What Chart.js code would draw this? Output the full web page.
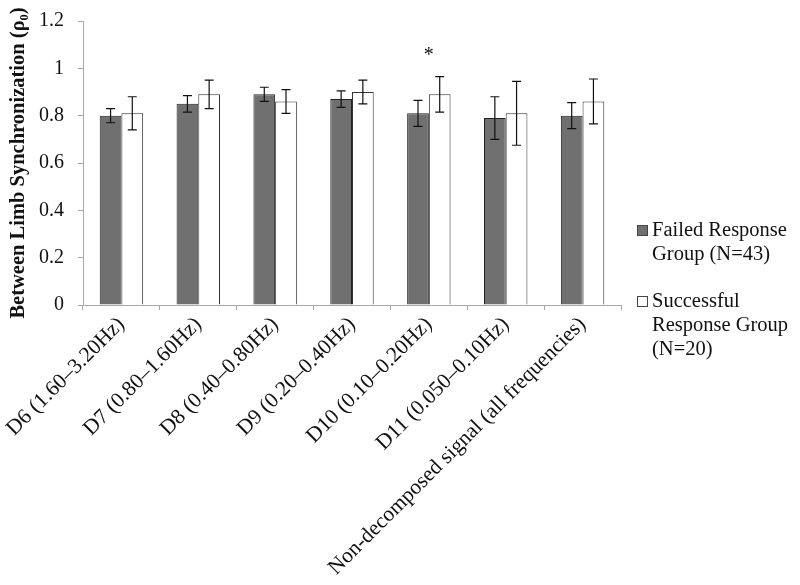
<!DOCTYPE html>
<html>
<head>
<meta charset="utf-8">
<script src="https://cdn.jsdelivr.net/npm/chart.js@4"></script>
<style>
  html, body { margin: 0; padding: 0; background: #fff; }
  #wrap { width: 800px; height: 585px; }
</style>
</head>
<body>
<div id="wrap"><canvas id="c" width="800" height="585"></canvas></div>
<script>
const categories = [
  'D6 (1.60\u20133.20Hz)',
  'D7 (0.80\u20131.60Hz)',
  'D8 (0.40\u20130.80Hz)',
  'D9 (0.20\u20130.40Hz)',
  'D10 (0.10\u20130.20Hz)',
  'D11 (0.050\u20130.10Hz)',
  'Non-decomposed signal (all frequencies)'
];
const failedValues = [0.80, 0.85, 0.89, 0.87, 0.81, 0.79, 0.80];
const failedErrors = [0.03, 0.035, 0.03, 0.035, 0.055, 0.09, 0.055];
const successValues = [0.81, 0.89, 0.86, 0.90, 0.89, 0.81, 0.86];
const successErrors = [0.07, 0.06, 0.05, 0.05, 0.075, 0.135, 0.095];
const significanceMarks = ['', '', '', '', '*', '', ''];
const significanceLevel = 1.075;
const yTickLabels = ['0', '0.2', '0.4', '0.6', '0.8', '1', '1.2'];
const seriesNames = ['Failed Response Group (N=43)', 'Successful Response Group (N=20)'];
const legendLines = [['Failed Response', 'Group (N=43)'], ['Successful', 'Response Group', '(N=20)']];
const yTitle = 'Between Limb Synchronization (\u03c1\u2080)';

const FONT = "'Liberation Serif', 'Times New Roman', serif";
const errors = [failedErrors, successErrors];

const errorBarPlugin = {
  id: 'errorBars',
  afterDatasetsDraw(chart) {
    const ctx = chart.ctx;
    const y = chart.scales.y;
    ctx.save();
    ctx.strokeStyle = '#111';
    ctx.lineWidth = 1.2;
    chart.data.datasets.forEach((ds, di) => {
      const meta = chart.getDatasetMeta(di);
      meta.data.forEach((bar, i) => {
        const v = ds.data[i], e = errors[di][i];
        const yt = y.getPixelForValue(v + e);
        const yb = y.getPixelForValue(v - e);
        const x = bar.x;
        const cap = 4.5;
        ctx.beginPath();
        ctx.moveTo(x, yt); ctx.lineTo(x, yb);
        ctx.moveTo(x - cap, yt); ctx.lineTo(x + cap, yt);
        ctx.moveTo(x - cap, yb); ctx.lineTo(x + cap, yb);
        ctx.stroke();
      });
    });
    const xs = chart.scales.x;
    ctx.fillStyle = '#111';
    ctx.font = '20px ' + FONT;
    ctx.textAlign = 'center';
    ctx.textBaseline = 'middle';
    significanceMarks.forEach((m, i) => {
      if (!m) return;
      ctx.fillText(m, xs.getPixelForValue(i), y.getPixelForValue(significanceLevel) + 5);
    });
    ctx.restore();
  }
};

const legendPlugin = {
  id: 'sideLegend',
  afterDraw(chart) {
    const ctx = chart.ctx;
    ctx.save();
    ctx.font = '20.5px ' + FONT;
    ctx.textAlign = 'left';
    ctx.textBaseline = 'middle';
    const starts = [231, 302];
    const lineH = 24;
    chart.data.datasets.forEach((ds, di) => {
      const y0 = starts[di];
      ctx.fillStyle = ds.backgroundColor;
      ctx.fillRect(637.5, y0 - 5.5, 10, 10);
      ctx.strokeStyle = '#444';
      ctx.lineWidth = 1;
      ctx.strokeRect(637.5, y0 - 5.5, 10, 10);
      ctx.fillStyle = '#111';
      legendLines[di].forEach((line, li) => {
        ctx.fillText(line, 652, y0 + li * lineH);
      });
    });
    ctx.restore();
  }
};

new Chart(document.getElementById('c'), {
  type: 'bar',
  data: {
    labels: categories,
    datasets: [
      { label: seriesNames[0], data: failedValues, backgroundColor: '#707070', borderColor: '#222', borderWidth: 1 },
      { label: seriesNames[1], data: successValues, backgroundColor: '#ffffff', borderColor: '#333', borderWidth: 1 }
    ]
  },
  options: {
    responsive: false,
    animation: false,
    devicePixelRatio: 1,
    layout: { padding: { top: 21, right: 179, bottom: 0, left: 0 } },
    datasets: { bar: { barPercentage: 1.0, categoryPercentage: 0.565 } },
    plugins: { legend: { display: false }, tooltip: { enabled: false } },
    scales: {
      x: {
        grid: { drawOnChartArea: false, color: '#a8a8a8', tickLength: 5, offset: true },
        border: { color: '#a8a8a8' },
        ticks: {
          autoSkip: false, maxRotation: 45, minRotation: 45, padding: 2,
          color: '#111', font: { family: FONT, size: 21.5 }
        },
        afterFit(s) { s.height = 280; s.paddingLeft = 0; s.paddingRight = 0; s.paddingTop = 0; s.paddingBottom = 0; }
      },
      y: {
        min: 0, max: 1.2,
        grid: { drawOnChartArea: false, color: '#a8a8a8', tickLength: 5 },
        border: { color: '#a8a8a8' },
        ticks: {
          stepSize: 0.2, padding: 14, color: '#111',
          font: { family: FONT, size: 20 },
          callback: (v) => yTickLabels[Math.round(v / 0.2)]
        },
        title: {
          display: true, text: yTitle, color: '#111',
          font: { family: FONT, size: 20.5, weight: 'bold' },
          padding: { top: 6, bottom: 0 }
        },
        afterFit(s) { s.width = 83; s.paddingTop = 0; s.paddingBottom = 0; }
      }
    }
  },
  plugins: [errorBarPlugin, legendPlugin]
});
</script>
</body>
</html>
